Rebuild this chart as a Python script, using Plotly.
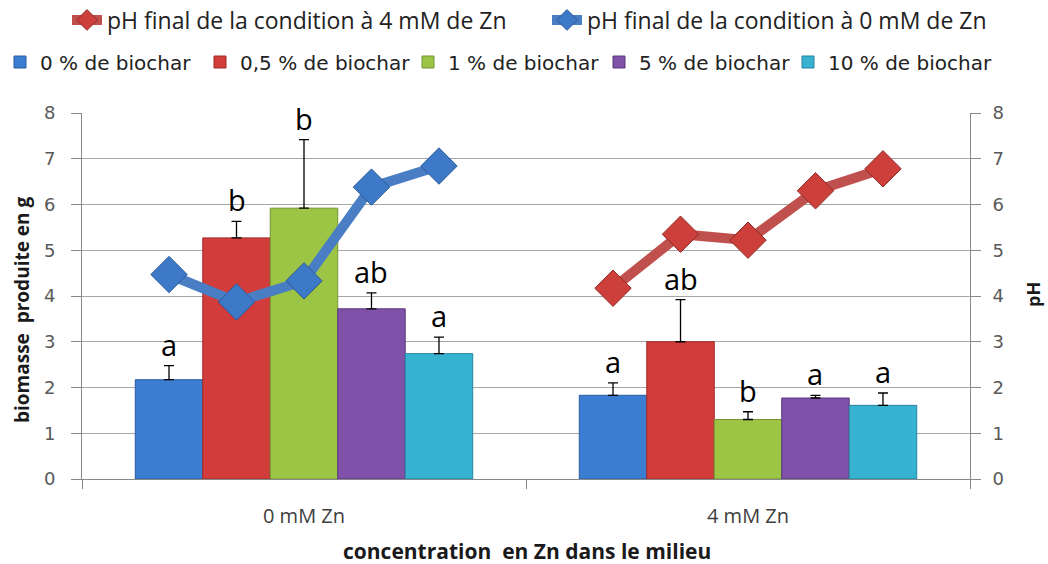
import plotly.graph_objects as go

# ---- data ----
groups = ["0 mM Zn", "4 mM Zn"]
series_names = ["0 % de biochar", "0,5 % de biochar", "1 % de biochar", "5 % de biochar", "10 % de biochar"]
series_colors = ["#3b7dd0", "#d23c3a", "#9cc445", "#7f51a8", "#37b2d0"]
series_edges = ["#2a5c9e", "#9e2a29", "#739432", "#5a3a7c", "#26849c"]

biomass_0mM = [2.17, 5.27, 5.92, 3.72, 2.74]
biomass_4mM = [1.83, 3.00, 1.30, 1.77, 1.61]
err_0mM = [0.31, 0.36, 1.50, 0.35, 0.36]
err_4mM = [0.27, 0.92, 0.17, 0.06, 0.27]
letters_0mM = ["a", "b", "b", "ab", "a"]
letters_4mM = ["a", "ab", "b", "a", "a"]

ph_names = ["pH final de la condition à 4 mM de Zn", "pH final de la condition à 0 mM de Zn"]
ph_0mM = [4.47, 3.87, 4.33, 6.38, 6.84]
ph_4mM = [4.17, 5.35, 5.22, 6.30, 6.78]

y_ticks = [0, 1, 2, 3, 4, 5, 6, 7, 8]

# ---- layout constants ----
W, H = 1048, 564
ML, MR, MT, MB = 82, 78, 113, 85
PW, PH = W - ML - MR, H - MT - MB
BARGAP = 0.24
n = len(series_names)
bw = (1 - BARGAP) / n
group_x = list(range(len(groups)))

def offset_x(g, i):
    return g + (i - (n - 1) / 2) * bw

def px(x):  # pixel -> paper x
    return (x - ML) / PW

def py(y):  # pixel -> paper y
    return (H - MB - y) / PH

# legend entry positions (left edge in px), one legend per entry
line_legend_left = [67, 547]
bar_legend_left = [0, 200, 408, 599, 788]

fig = go.Figure()

for i, name in enumerate(series_names):
    fig.add_trace(go.Bar(
        x=group_x, y=[biomass_0mM[i], biomass_4mM[i]], name=name,
        marker=dict(color=series_colors[i], line=dict(color=series_edges[i], width=1)),
        error_y=dict(type="data", symmetric=False, array=[err_0mM[i], err_4mM[i]],
                     arrayminus=[0, 0], color="black", thickness=1.3, width=5),
        legend=f"legend{i + 3}"))

fig.add_trace(go.Scatter(
    x=[offset_x(1, i) for i in range(n)], y=ph_4mM,
    name=ph_names[0], mode="lines+markers",
    line=dict(color="#c0504d", width=10),
    marker=dict(symbol="diamond", size=28, color="#cc3f3b", line=dict(color="#8e2c2a", width=1)),
    yaxis="y2", legend="legend"))
fig.add_trace(go.Scatter(
    x=[offset_x(0, i) for i in range(n)], y=ph_0mM,
    name=ph_names[1], mode="lines+markers",
    line=dict(color="#4a7ec4", width=10),
    marker=dict(symbol="diamond", size=28, color="#3e79c8", line=dict(color="#2a5a9a", width=1)),
    yaxis="y2", legend="legend2"))

# significance letters
for g, (vals, errs, lets) in enumerate([(biomass_0mM, err_0mM, letters_0mM), (biomass_4mM, err_4mM, letters_4mM)]):
    for i in range(n):
        fig.add_annotation(x=offset_x(g, i), y=vals[i] + errs[i], text=lets[i],
                           showarrow=False, yanchor="bottom", yshift=0,
                           font=dict(family="Open Sans", size=29, color="black"))

# axis titles as annotations
title_font = dict(family="Open Sans", size=19, color="#1a1a1a")
fig.add_annotation(xref="paper", yref="paper", x=px(22), y=py(310), text="<b>biomasse  produite en g</b>",
                   textangle=-90, showarrow=False, xanchor="center", yanchor="middle", font=title_font)
fig.add_annotation(xref="paper", yref="paper", x=px(1033), y=py(295), text="<b>pH</b>",
                   textangle=-90, showarrow=False, xanchor="center", yanchor="middle",
                   font=dict(family="Open Sans", size=18, color="#1a1a1a"))
fig.add_annotation(xref="paper", yref="paper", x=px(527), y=py(551), text="<b>concentration  en Zn dans le milieu</b>",
                   showarrow=False, xanchor="center", yanchor="middle",
                   font=dict(family="Open Sans", size=21, color="#1a1a1a"))

tick_font = dict(family="DejaVu Sans", size=18, color="#595959")
legend_defs = {}
for k, left in enumerate(line_legend_left):
    key = "legend" if k == 0 else f"legend{k + 1}"
    legend_defs[key] = dict(orientation="h", x=px(left), xanchor="left", y=py(20), yanchor="middle",
                            font=dict(family="Open Sans", size=23, color="#222222"),
                            bgcolor="rgba(0,0,0,0)")
for k, left in enumerate(bar_legend_left):
    legend_defs[f"legend{k + 3}"] = dict(orientation="h", x=px(left), xanchor="left", y=py(62), yanchor="middle",
                                         font=dict(family="DejaVu Sans", size=20, color="#222222"),
                                         bgcolor="rgba(0,0,0,0)")

fig.update_layout(
    width=W, height=H,
    margin=dict(l=ML, r=MR, t=MT, b=MB, autoexpand=False),
    paper_bgcolor="white", plot_bgcolor="white",
    barmode="group", bargap=BARGAP, bargroupgap=0,
    showlegend=True, hovermode=False,
    xaxis=dict(range=[-0.5, 1.5], tickvals=group_x, ticktext=groups, ticks="",
               tickfont=dict(family="Open Sans", size=20, color="#404040"),
               ticklabelstandoff=19, automargin=False,
               showline=True, linecolor="#888888", linewidth=1, showgrid=False, zeroline=False,
               minor=dict(ticks="outside", tickvals=[-0.5, 0.5, 1.5], ticklen=9, tickcolor="#888888", showgrid=False)),
    yaxis=dict(range=[0, 8], tickvals=y_ticks, ticks="outside", ticklen=10, tickcolor="#888888",
               tickfont=tick_font, ticklabelstandoff=12, automargin=False,
               showline=True, linecolor="#888888", linewidth=1,
               showgrid=True, gridcolor="#a6a6a6", gridwidth=1, zeroline=False),
    yaxis2=dict(range=[0, 8], tickvals=y_ticks, overlaying="y", side="right", ticks="outside",
                ticklen=10, tickcolor="#888888", tickfont=tick_font, ticklabelstandoff=8,
                automargin=False, showline=True,
                linecolor="#888888", linewidth=1, showgrid=False, zeroline=False),
    **legend_defs,
)

fig.write_html("out.html", config={"displayModeBar": False, "staticPlot": True},
               post_script="document.body.style.margin='0';")
